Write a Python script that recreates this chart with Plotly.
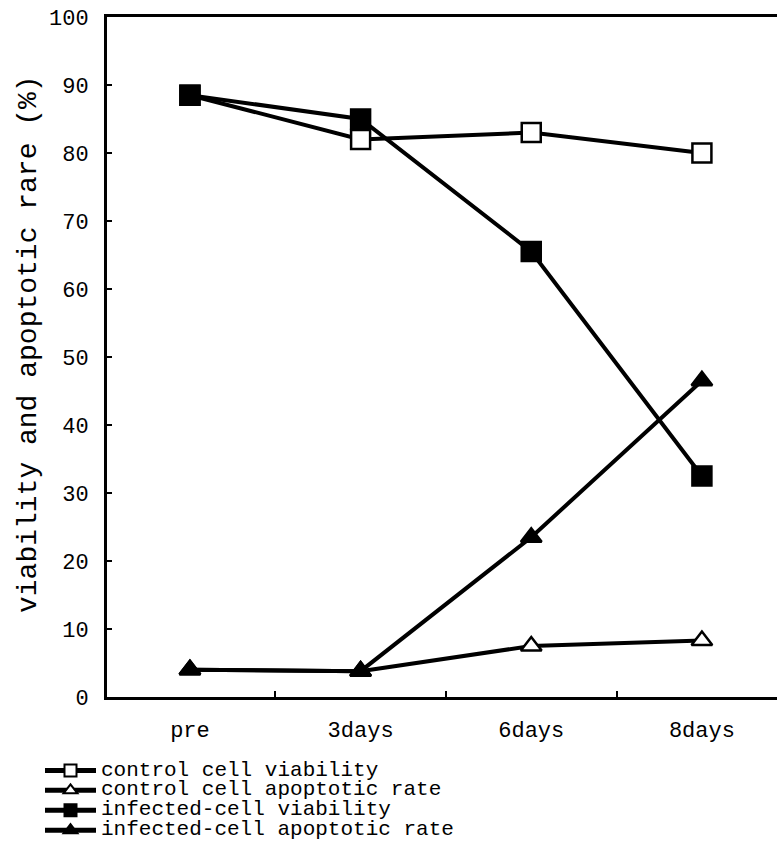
import plotly.graph_objects as go

categories = ["pre", "3days", "6days", "8days"]
control_viability = [88.5, 82.0, 83.0, 80.0]
control_apoptotic = [4.0, 3.8, 7.5, 8.3]
infected_viability = [88.5, 85.0, 65.5, 32.5]
infected_apoptotic = [4.0, 3.8, 23.5, 46.5]
series_names = ["control cell viability", "control cell apoptotic rate",
                "infected-cell viability", "infected-cell apoptotic rate"]
y_ticks = [0, 10, 20, 30, 40, 50, 60, 70, 80, 90, 100]
y_title = "viability and apoptotic rare (%)"

FONT = "Courier New, Liberation Mono, monospace"
BLACK = "#000000"
WHITE = "#ffffff"

fig = go.Figure()

specs = [
    (control_viability, series_names[0], "square", WHITE, 19),
    (control_apoptotic, series_names[1], "triangle-up", WHITE, 18),
    (infected_viability, series_names[2], "square", BLACK, 19),
    (infected_apoptotic, series_names[3], "triangle-up", BLACK, 18),
]
for vals, name, sym, fill, size in specs:
    fig.add_trace(go.Scatter(
        x=categories, y=vals, mode="lines+markers",
        name="<span style='font-size:21px'>" + name + "</span>",
        line=dict(color=BLACK, width=4),
        marker=dict(symbol=sym, size=size, color=fill,
                    line=dict(color=BLACK, width=2.5)),
    ))

fig.update_layout(
    width=777, height=852,
    margin=dict(l=107, r=0, t=17, b=155),
    paper_bgcolor="white", plot_bgcolor="white",
    font=dict(family=FONT, color=BLACK, size=21),
    showlegend=True,
    legend=dict(
        x=-0.1, y=-0.086, xanchor="left", yanchor="top",
        font=dict(family=FONT, size=13, color=BLACK),
        bgcolor="rgba(0,0,0,0)", borderwidth=0,
        itemwidth=51, tracegroupgap=0, itemsizing="constant",
    ),
    xaxis=dict(
        type="category", categoryorder="array", categoryarray=categories,
        range=[-0.486, 3.44],
        showline=True, linecolor=BLACK, linewidth=3, mirror=True,
        ticks="inside", tickson="boundaries", ticklen=6, tickwidth=2, tickcolor=BLACK,
        showgrid=False, zeroline=False,
        tickfont=dict(family=FONT, size=22, color=BLACK),
        ticklabelstandoff=11,
    ),
    yaxis=dict(
        range=[0, 100], tickvals=y_ticks,
        showline=True, linecolor=BLACK, linewidth=3, mirror=False,
        ticks="inside", ticklen=5, tickwidth=2, tickcolor=BLACK,
        showgrid=False, zeroline=False,
        tickfont=dict(family=FONT, size=22, color=BLACK),
        ticklabelstandoff=11,
    ),
    annotations=[dict(
        text=y_title, textangle=-90, xref="paper", yref="paper",
        x=-0.118, y=0.519, xanchor="center", yanchor="middle",
        showarrow=False, font=dict(family=FONT, size=28, color=BLACK),
    )],
)

fig.write_html("out.html", config={"displayModeBar": False},
               post_script="document.body.style.margin='0';")
